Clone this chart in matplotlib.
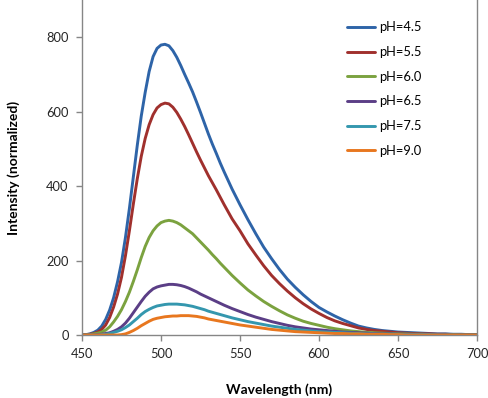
import matplotlib
matplotlib.use("Agg")
import matplotlib.pyplot as plt

plt.rcParams['font.family'] = ['Lato', 'DejaVu Sans']

# wavelength grid (nm): 2.5 nm steps up to 540, then 5 nm steps
wavelength = [450 + 2.5 * i for i in range(37)] + list(range(545, 701, 5))

# emission spectra, one list per pH
ph45 = [0, 1, 3, 7, 13, 24, 42, 67, 100, 143, 195, 262, 340, 425, 510, 588,
        652, 708, 748, 770, 779, 781, 777, 764, 746, 724, 700, 677, 653, 626,
        598, 569, 540, 513, 488, 462, 438,
        392, 350, 310, 272, 236, 205, 176, 150, 128, 108, 90, 74, 62, 51, 41,
        32, 24, 19, 15, 12, 10, 8, 7, 6, 5, 4, 3, 3, 2, 2, 1, 1]
ph55 = [0, 1, 2, 4, 8, 15, 27, 47, 75, 110, 155, 213, 280, 352, 420, 480,
        528, 565, 592, 610, 619, 623, 621, 612, 598, 580, 560, 538, 515, 492,
        470, 449, 428, 409, 390, 370, 350,
        312, 280, 245, 215, 186, 160, 138, 118, 100, 84, 70, 58, 47, 38, 31,
        25, 19, 15, 12, 10, 8, 6, 5, 4, 3, 3, 2, 2, 1, 1, 1, 0]
ph60 = [0, 0, 1, 3, 5, 8, 13, 22, 35, 50, 68, 90, 115, 144, 175, 208,
        238, 262, 280, 293, 302, 306, 308, 306, 302, 296, 288, 280, 272, 261,
        250, 239, 228, 216, 205, 193, 182,
        160, 140, 121, 105, 90, 77, 65, 54, 45, 37, 31, 26, 21, 17, 14,
        11, 9, 7, 6, 5, 4, 3, 3, 2, 2, 1, 1, 1, 1, 0, 0, 0]
ph65 = [0, 0, 0, 0, 1, 2, 4, 6, 10, 15, 22, 32, 45, 60, 75, 90,
        104, 115, 124, 129, 132, 134, 136, 136, 135, 133, 130, 126, 121, 116,
        110, 105, 100, 95, 90, 85, 80,
        71, 63, 55, 48, 42, 36, 31, 26, 22, 19, 16, 14, 12, 10, 8,
        7, 6, 5, 4, 3, 3, 2, 2, 2, 1, 1, 1, 1, 0, 0, 0, 0]
ph75 = [0, 0, 0, 0, 0, 1, 2, 4, 7, 10, 14, 20, 27, 36, 45, 55,
        63, 69, 74, 78, 80, 82, 83, 83, 83, 82, 81, 79, 77, 74,
        71, 68, 64, 61, 58, 55, 52,
        46, 41, 36, 32, 28, 24, 21, 18, 15, 13, 11, 9, 8, 7, 6,
        5, 4, 3, 3, 2, 2, 2, 1, 1, 1, 1, 0, 0, 0, 0, 0, 0]
ph90 = [0, 0, 0, 0, 0, 0, 0, 0, 0, 0, 1, 3, 7, 12, 18, 25,
        31, 37, 42, 45, 47, 49, 50, 51, 51, 52, 52, 52, 51, 50,
        48, 46, 43, 41, 39, 37, 35,
        31, 27, 24, 21, 18, 15, 13, 11, 9, 8, 7, 6, 5, 4, 4,
        3, 3, 2, 2, 2, 1, 1, 0, 0, 0, 0, 0, 0, 0, 0, 0, 0]

series = [ph45, ph55, ph60, ph65, ph75, ph90]
labels = ["pH=4.5", "pH=5.5", "pH=6.0", "pH=6.5", "pH=7.5", "pH=9.0"]
colors = ["#2E64A8", "#A0302D", "#7BA23F", "#5B3E86", "#3497AE", "#E8771F"]

fig = plt.figure(figsize=(4.89, 3.98), dpi=100)
ax = fig.add_axes([82/489, 1 - 335/398, 395/489, 335/398])

for y, lab, c in zip(series, labels, colors):
    ax.plot(wavelength, y, color=c, lw=2.1, label=lab,
            solid_joinstyle="round", solid_capstyle="round")

ax.set_xlim(450, 700)
ax.set_ylim(0, 900)
ax.set_xticks(range(450, 701, 50))
ax.set_yticks(range(0, 801, 200))

for side in ["left", "bottom", "right"]:
    ax.spines[side].set_color("#868686")
    ax.spines[side].set_linewidth(1)
ax.spines["top"].set_visible(False)

ax.tick_params(direction="out", length=4.5, width=1, color="#868686",
               labelsize=9.3, labelcolor="#262626", pad=5)

ax.set_xlabel("Wavelength (nm)", fontsize=10, fontweight="bold", labelpad=16.5)
ax.set_ylabel("Intensity (normalized)", fontsize=10, fontweight="bold", labelpad=19)

ax.legend(loc="upper left", bbox_to_anchor=(0.671, 0.936), frameon=False,
          fontsize=9.3, handlelength=2.2, handletextpad=0.25,
          labelspacing=0.98, borderpad=0, borderaxespad=0)

fig.savefig("out.png", dpi=100)
